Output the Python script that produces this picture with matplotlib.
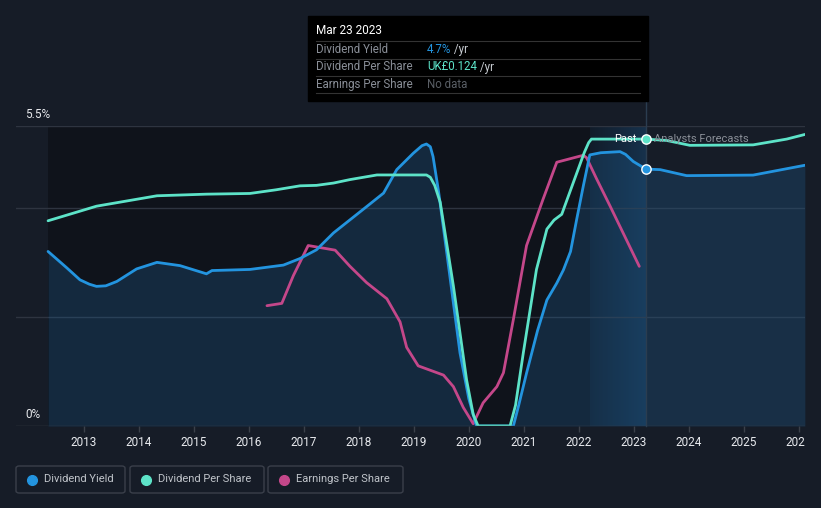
import numpy as np
import matplotlib.pyplot as plt
from matplotlib.patches import Rectangle, FancyBboxPatch
from matplotlib.lines import Line2D
from matplotlib.transforms import Bbox, TransformedBbox

plt.rcParams['font.family'] = ['Roboto', 'DejaVu Sans']

# Dividend yield (%)
yield_years = [2012.35, 2012.69, 2012.93, 2013.1, 2013.23, 2013.4, 2013.6, 2013.96, 2014.33, 2014.75,
               2015.23, 2015.33, 2016.02, 2016.63, 2016.93, 2017.23, 2017.54, 2017.84, 2018.14, 2018.45,
               2018.69, 2018.99, 2019.15, 2019.23, 2019.3, 2019.35, 2019.45, 2019.6, 2019.84, 2020.0,
               2020.14, 2020.81, 2020.9, 2021.05, 2021.25, 2021.42, 2021.6, 2021.72, 2021.85, 2021.96,
               2022.08, 2022.2, 2022.4, 2022.75, 2022.85, 2022.99, 2023.22, 2023.48, 2023.96, 2025.17,
               2026.11]
yield_vals = [3.2, 2.9, 2.68, 2.6, 2.56, 2.57, 2.65, 2.88, 3.0, 2.94,
              2.79, 2.85, 2.87, 2.95, 3.07, 3.23, 3.54, 3.78, 4.02, 4.27,
              4.7, 5.0, 5.14, 5.17, 5.12, 4.94, 4.3, 3.17, 1.34, 0.5,
              0.0, 0.0, 0.35, 0.97, 1.75, 2.31, 2.62, 2.86, 3.2, 3.78,
              4.39, 4.97, 5.01, 5.03, 4.98, 4.85, 4.71, 4.7, 4.59, 4.6,
              4.78]

# Dividend per share (UK£)
dps_years = [2012.35, 2013.23, 2014.33, 2015.23, 2016.02, 2016.5, 2016.93, 2017.23, 2017.54, 2017.84,
             2018.33, 2019.23, 2019.3, 2019.38, 2019.48, 2019.72, 2019.96, 2020.08, 2020.17, 2020.75,
             2020.85, 2020.99, 2021.23, 2021.42, 2021.55, 2021.69, 2021.9, 2022.1, 2022.18, 2022.23,
             2023.22, 2023.6, 2024.02, 2025.17, 2025.78, 2026.11]
dps_vals = [0.0887, 0.0950, 0.0995, 0.1002, 0.1005, 0.1021, 0.1038, 0.1040, 0.1050, 0.1065,
            0.1085, 0.1085, 0.1075, 0.1040, 0.0967, 0.0605, 0.0199, 0.0050, 0.0, 0.0,
            0.0090, 0.0314, 0.0676, 0.0851, 0.0890, 0.0915, 0.1052, 0.1182, 0.1225, 0.124,
            0.124, 0.1234, 0.1213, 0.1215, 0.124, 0.126]

# Earnings per share (UK£)
eps_years = [2016.33, 2016.6, 2016.81, 2017.08, 2017.57, 2017.84, 2018.14, 2018.51, 2018.75, 2018.87,
             2019.08, 2019.54, 2019.72, 2019.9, 2020.08, 2020.26, 2020.51, 2020.63, 2020.81, 2021.05,
             2021.35, 2021.6, 2022.08, 2022.14, 2022.32, 2022.57, 2023.1]
eps_vals = [0.052, 0.053, 0.065, 0.078, 0.076, 0.069, 0.062, 0.055, 0.045, 0.034,
            0.026, 0.022, 0.017, 0.008, 0.001, 0.010, 0.017, 0.023, 0.046, 0.078,
            0.098, 0.114, 0.117, 0.116, 0.107, 0.095, 0.069]

year_ticks = list(range(2013, 2027))
now = 2023.22
BG = '#161c27'
C_YIELD, C_DPS, C_EPS = '#2394df', '#5de3c8', '#c4478a'
SCALE = 5.26 / 0.124  # per-share values drawn on the yield scale

W, H = 821, 508
fig = plt.figure(figsize=(W / 100, H / 100), dpi=100, facecolor=BG)
ax = fig.add_axes([16 / W, 1 - 426 / H, (805 - 16) / W, 300 / H])
ax.set_facecolor(BG)
ax.set_xlim(2011.767, 2026.113)
ax.set_ylim(0, 5.5)

# past region darker, last-year band highlighted
ax.axvspan(yield_years[0], now, color='#0f131b', zorder=0, lw=0)
grad = np.linspace(0, 1, 100).reshape(1, -1)
rgba = np.zeros((1, 100, 4))
rgba[..., 0], rgba[..., 1], rgba[..., 2] = 0.12, 0.32, 0.50
rgba[..., 3] = 0.15 + 0.35 * grad
ax.imshow(rgba, extent=[2022.2, now, 0, 5.5], aspect='auto', zorder=0.5, interpolation='bilinear')

for g in [2, 4, 5.5]:
    ax.axhline(g, color='#2e3440', lw=1, zorder=1)

ax.fill_between(yield_years, yield_vals, 0, color='#1f5a8a', alpha=0.32, lw=0, zorder=1.5)
ax.plot(yield_years, yield_vals, color=C_YIELD, lw=2, zorder=3, solid_capstyle='round')
ax.plot(dps_years, np.array(dps_vals) * SCALE, color=C_DPS, lw=2, zorder=3, solid_capstyle='round')
ax.plot(eps_years, np.array(eps_vals) * SCALE, color=C_EPS, lw=2, zorder=2.5, solid_capstyle='round')

# tooltip line and markers
ax.plot([now, now], [0, (426 - 101) / 54.5], color='#2b3d50', lw=1, clip_on=False, zorder=2)
ax.scatter([now], [0.124 * SCALE], s=45, color=C_DPS, edgecolor='white', lw=1, zorder=5)
ax.scatter([now], [4.71], s=45, color=C_YIELD, edgecolor='white', lw=1, zorder=5)
ax.text(now - 0.17, 0.124 * SCALE, 'Past', color='white', fontsize=8, ha='right', va='center', zorder=6)
ax.text(now + 0.15, 0.124 * SCALE, 'Analysts Forecasts', color='#8a8f98', fontsize=8, ha='left',
        va='center', zorder=6)

for s in ax.spines.values():
    s.set_visible(False)
ax.axhline(0, color='#3a404a', lw=1, zorder=4)
ax.set_yticks([])
ax.set_xticks(year_ticks)
ax.set_xticklabels([])
ax.tick_params(axis='x', direction='out', length=4, color='#3a404a', width=1)
clip = TransformedBbox(Bbox([[0, 0], [805 / W, 1]]), fig.transFigure)
for yr in year_ticks:
    t = ax.text(yr, -14 / 54.5 - 0.05, str(yr), color='#e8eaee', fontsize=8.5, ha='center', va='center',
                clip_on=True)
    t.set_clip_box(clip)

fig.text(25 / W, 1 - 114 / H, '5.5%', color='#e8eaee', fontsize=8.5, va='center')
fig.text(25 / W, 1 - 414 / H, '0%', color='#e8eaee', fontsize=8.5, va='center')

# tooltip box
fx = lambda x: x / W
fy = lambda y: 1 - y / H
fig.add_artist(Rectangle((fx(308), fy(101)), fx(648) - fx(308), fy(16) - fy(101),
                         transform=fig.transFigure, color='black', zorder=10))
fig.text(fx(316), fy(31), 'Mar 23 2023', color='white', fontsize=8.5, va='center', zorder=11)
for yl in [41, 58.5, 76, 93]:
    fig.add_artist(Line2D([fx(316), fx(640)], [fy(yl), fy(yl)], transform=fig.transFigure,
                          color='#333333', lw=0.8, zorder=11))
rows = [('Dividend Yield', '4.7%', C_YIELD, ' /yr'),
        ('Dividend Per Share', 'UK£0.124', C_DPS, ' /yr'),
        ('Earnings Per Share', 'No data', '#5a5f66', '')]
for i, (lab, val, col, unit) in enumerate(rows):
    y = fy(49.5 + i * 17.5)
    fig.text(fx(316), y, lab, color='#8a8f98', fontsize=8.3, va='center', zorder=11)
    t = fig.text(fx(427), y, val, color=col, fontsize=8.3, va='center', zorder=11)
    if unit:
        fig.canvas.draw()
        bb = t.get_window_extent()
        fig.text(bb.x1 / W, y, unit, color='#c8ccd2', fontsize=8.3, va='center', zorder=11)

# legend
legend = [('Dividend Yield', C_YIELD, 16, 125), ('Dividend Per Share', C_DPS, 130, 264),
          ('Earnings Per Share', C_EPS, 268, 403)]
for lab, col, x0, x1 in legend:
    fig.add_artist(FancyBboxPatch((fx(x0), fy(493)), fx(x1) - fx(x0), fy(466) - fy(493),
                                  boxstyle='round,pad=0,rounding_size=0.004', transform=fig.transFigure,
                                  facecolor=BG, edgecolor='#3a3f4a', lw=1))
    fig.add_artist(Line2D([fx(x0 + 16)], [fy(479.5)], marker='o', markersize=7, color=col,
                          transform=fig.transFigure))
    fig.text(fx(x0 + 28), fy(479.5), lab, color='#c0c4ca', fontsize=8, va='center')

fig.savefig('out.png', dpi=100, facecolor=BG)
